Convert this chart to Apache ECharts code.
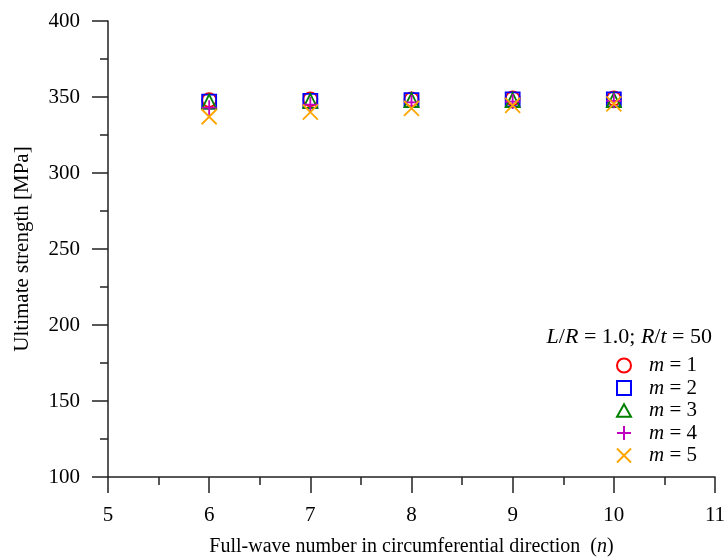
<!DOCTYPE html>
<html>
<head>
<meta charset="utf-8">
<script src="https://cdn.jsdelivr.net/npm/echarts@6/dist/echarts.min.js"></script>
<style>html,body{margin:0;padding:0;background:#fff}#c{width:724px;height:560px}</style>
</head>
<body>
<div id="c"></div>
<script>
var nValues = [6, 7, 8, 9, 10];
var m1 = [348, 348.5, 348.5, 349, 349];
var m2 = [347, 347.5, 348, 348.5, 348.5];
var m3 = [347, 347.5, 348, 348, 348];
var m4 = [343, 345, 346.5, 347, 347.5];
var m5 = [337, 340, 342.5, 344.5, 345.5];
var seriesNames = ['m = 1', 'm = 2', 'm = 3', 'm = 4', 'm = 5'];
var colors = ['#ff0000', '#0000ff', '#008000', '#c000c0', '#ffa500'];
var symbols = [
  'circle',
  'rect',
  'path://M5,0L10,9L0,9Z',
  'path://M5,0L5,10M0,5L10,5',
  'path://M0,0L10,10M10,0L0,10'
];
var sizes = [14, 14, 14, 15, 15];
var allData = [m1, m2, m3, m4, m5];
var FONT = 'Liberation Serif';

var chart = echarts.init(document.getElementById('c'));
var series = allData.map(function (vals, i) {
  return {
    name: seriesNames[i],
    type: 'scatter',
    symbol: symbols[i],
    symbolSize: sizes[i],
    itemStyle: { color: 'transparent', borderColor: colors[i], borderWidth: 1.8, opacity: 1 },
    data: nValues.map(function (n, j) { return [n, vals[j]]; })
  };
});

chart.setOption({
  animation: false,
  backgroundColor: '#fff',
  grid: { left: 108, right: 9, top: 21, bottom: 83, containLabel: false, outerBoundsMode: 'none' },
  xAxis: {
    type: 'value', min: 5, max: 11, interval: 1,
    name: 'Full-wave number in circumferential direction  ({i|n})',
    nameLocation: 'middle', nameGap: 60,
    nameTextStyle: { fontFamily: FONT, fontSize: 20, color: '#000',
      rich: { i: { fontFamily: FONT, fontStyle: 'italic', fontSize: 20, color: '#000' } } },
    axisLine: { show: true, onZero: false, lineStyle: { color: '#222', width: 1.5 } },
    axisTick: { show: true, inside: false, length: 16, lineStyle: { color: '#222', width: 1.5 } },
    minorTick: { show: true, splitNumber: 2, length: 8, lineStyle: { color: '#222', width: 1.5 } },
    splitLine: { show: false },
    axisLabel: { fontFamily: FONT, fontSize: 21, color: '#000', margin: 28 }
  },
  yAxis: {
    type: 'value', min: 100, max: 400, interval: 50,
    name: 'Ultimate strength [MPa]',
    nameLocation: 'middle', nameGap: 75, nameRotate: 90,
    nameTextStyle: { fontFamily: FONT, fontSize: 21, color: '#000' },
    axisLine: { show: true, onZero: false, lineStyle: { color: '#222', width: 1.5 } },
    axisTick: { show: true, inside: false, length: 16, lineStyle: { color: '#222', width: 1.5 } },
    minorTick: { show: true, splitNumber: 2, length: 8, lineStyle: { color: '#222', width: 1.5 } },
    splitLine: { show: false },
    axisLabel: { fontFamily: FONT, fontSize: 21, color: '#000', margin: 28 }
  },
  legend: {
    orient: 'vertical', left: 611, top: 350,
    itemWidth: 14, itemHeight: 14, itemGap: 1.5,
    data: seriesNames,
    formatter: function (name) { return '{i|m}' + name.slice(1); },
    textStyle: { fontFamily: FONT, fontSize: 21, lineHeight: 21, color: '#000', padding: [0, 0, 0, 13],
      rich: { i: { fontFamily: FONT, fontStyle: 'italic', fontSize: 21, lineHeight: 21, color: '#000' } } }
  },
  graphic: [{
    type: 'text', right: 12, top: 326,
    style: {
      text: '{i|L}/{i|R} = 1.0; {i|R}/{i|t} = 50',
      fontFamily: FONT, fontSize: 22, fill: '#000',
      rich: { i: { fontFamily: FONT, fontStyle: 'italic', fontSize: 22, fill: '#000' } }
    }
  }],
  series: series
});
</script>
</body>
</html>
